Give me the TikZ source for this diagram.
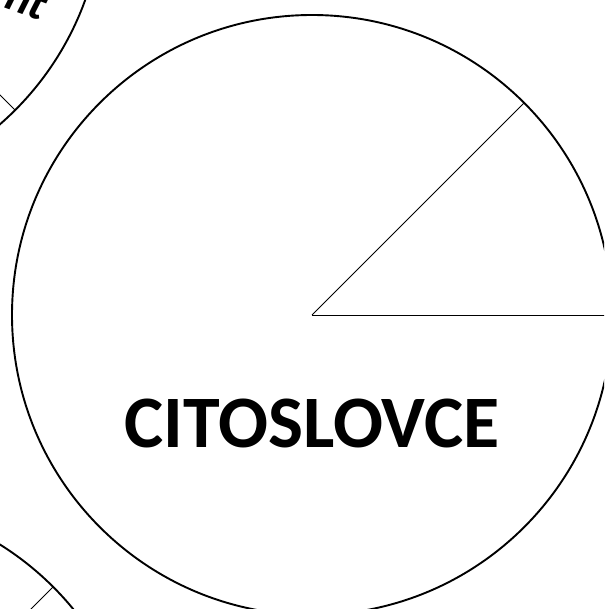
\documentclass[tikz,border=0pt]{standalone}
\usepackage{fontspec}
\setmainfont{Carlito}
\usetikzlibrary{calc}
\begin{document}
\begin{tikzpicture}[x=1pt,y=-1pt,
  ring/.style={draw=black,line width=1.9pt},
  spoke/.style={draw=black,line width=1pt},
  title/.style={font=\fontsize{74}{80}\selectfont\bfseries,inner sep=0pt},
  partial/.style={font=\fontsize{46}{50}\selectfont\bfseries\itshape,inner sep=0pt}]
\useasboundingbox (0,0) rectangle (604,609);
\clip (0,0) rectangle (604,609);
% big circle
\coordinate (c) at (312,315);
\draw[ring] (c) circle[radius=300pt];
\coordinate (p45) at ($(c)+(45:300pt)$);
\coordinate (p0) at ($(c)+(0:300pt)$);
\draw[spoke] (c) -- (p45);
\draw[spoke] (c) -- (p0);
\node[title,anchor=base] (t) at (312,447) {CITOSLOVCE};
% top-left circle
\coordinate (tl) at (-197,-102);
\draw[ring] (tl) circle[radius=300pt];
\coordinate (tlp) at ($(tl)+(-45:300pt)$);
\draw[spoke] (tl) -- (tlp);
\node[partial,anchor=base east,rotate=-20] (nt) at (41,21) {nt};
% bottom-left circle
\coordinate (bl) at (-159,799);
\draw[ring] (bl) circle[radius=300pt];
\coordinate (blp) at ($(bl)+(45:300pt)$);
\draw[spoke] (bl) -- (blp);
\end{tikzpicture}
\end{document}
